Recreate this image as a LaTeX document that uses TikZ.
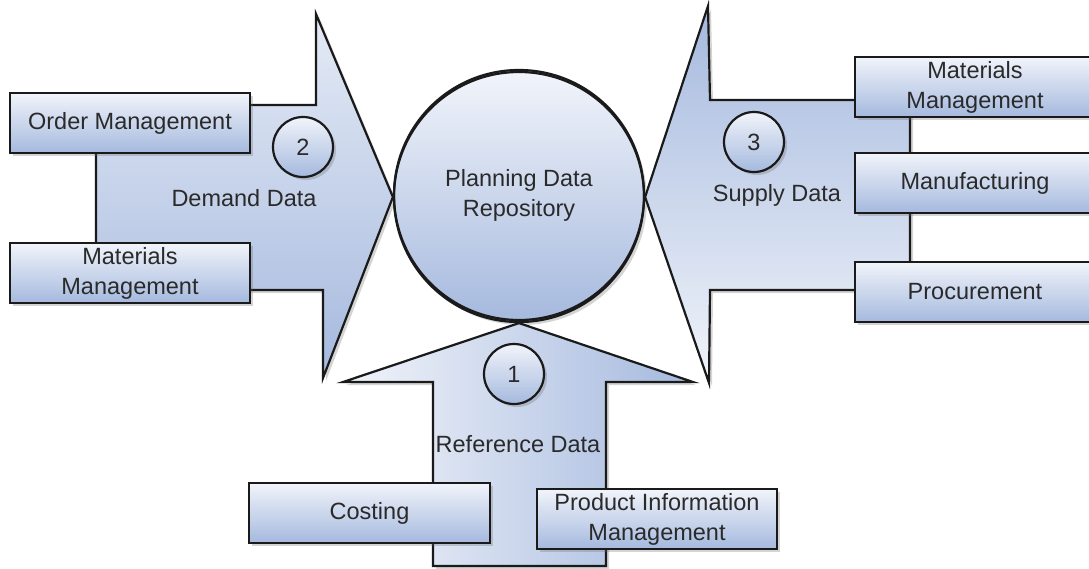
\documentclass[tikz,border=0pt]{standalone}
\usepackage{fontspec}
\setmainfont{Liberation Sans}
\usetikzlibrary{shadows}
\definecolor{lt}{HTML}{F1F4FA}
\definecolor{dk}{HTML}{A5B9DE}
\definecolor{mid}{HTML}{C9D5EB}
\definecolor{txt}{HTML}{2A2A2A}
\definecolor{edge}{HTML}{1A1A1A}
\begin{document}
\begin{tikzpicture}[x=1pt,y=-1pt,line join=miter,
  shadowed/.style={drop shadow={shadow xshift=3pt,shadow yshift=-3pt,opacity=0.28,fill=black!60}},
  boxnode/.style={draw=edge,line width=2.2pt,top color=lt,bottom color=dk,
    minimum width=240pt,minimum height=60pt,inner sep=0pt,align=center,
    text=txt,font=\fontsize{23.5}{30}\selectfont,shadowed},
  numnode/.style={circle,draw=edge,line width=2.2pt,top color=lt,bottom color=dk,
    minimum size=60pt,inner sep=0pt,text=txt,font=\fontsize{23.5}{28}\selectfont,shadowed},
  lbl/.style={text=txt,font=\fontsize{23.5}{28}\selectfont,inner sep=0pt},
  arrowshape/.style={draw=edge,line width=2.2pt,shadowed}]
\useasboundingbox (0,0) rectangle (1089,568);

% central repository
\node[circle,draw=edge,line width=2.2pt,top color=lt,bottom color=dk,
  minimum size=250pt,inner sep=0pt,shadowed] (repo) at (519,197) {};

% demand arrow (left)
\path[arrowshape,top color=lt!70!mid,bottom color=dk]
  (96,105) -- (316,105) -- (316,14) -- (repo.west) -- (323,378) -- (323,290) -- (96,290) -- cycle;
% supply arrow (right)
\path[arrowshape,top color=dk,bottom color=lt]
  (910,100) -- (710,100) -- (708,6) -- (repo.east) -- (709,383) -- (710,290) -- (910,290) -- cycle;
% reference arrow (bottom)
\path[arrowshape,left color=lt,right color=dk]
  (repo.south) -- (693,382) -- (606,382) -- (606,566) -- (433,566) -- (433,382) -- (343,382) -- cycle;

% circle outline and text on top of arrow tips
\node[circle,draw=edge,line width=2.2pt,minimum size=250pt,inner sep=0pt,align=center,
  text=txt,font=\fontsize{23.5}{30}\selectfont] (repotext) at (519,195) {Planning Data\\Repository};

% source boxes
\node[boxnode] (om) at (130,123) {Order Management};
\node[boxnode] (mml) at (130,273) {Materials\\Management};
\node[boxnode] (mmr) at (975,87) {Materials\\Management};
\node[boxnode] (mfg) at (975,183) {Manufacturing};
\node[boxnode] (proc) at (975,292) {Procurement};
\node[boxnode,minimum width=241pt] (cost) at (369.5,513) {Costing};
\node[boxnode] (pim) at (657,519) {Product Information\\Management};

% numbered markers and labels
\node[numnode] (n2) at (303,147) {2};
\node[numnode] (n3) at (754,142) {3};
\node[numnode] (n1) at (514,374) {1};
\node[lbl] (dd) at (244,198) {Demand Data};
\node[lbl] (sd) at (777,195) {Supply Data};
\node[lbl] (rd) at (518,444) {Reference Data};
\end{tikzpicture}
\end{document}
